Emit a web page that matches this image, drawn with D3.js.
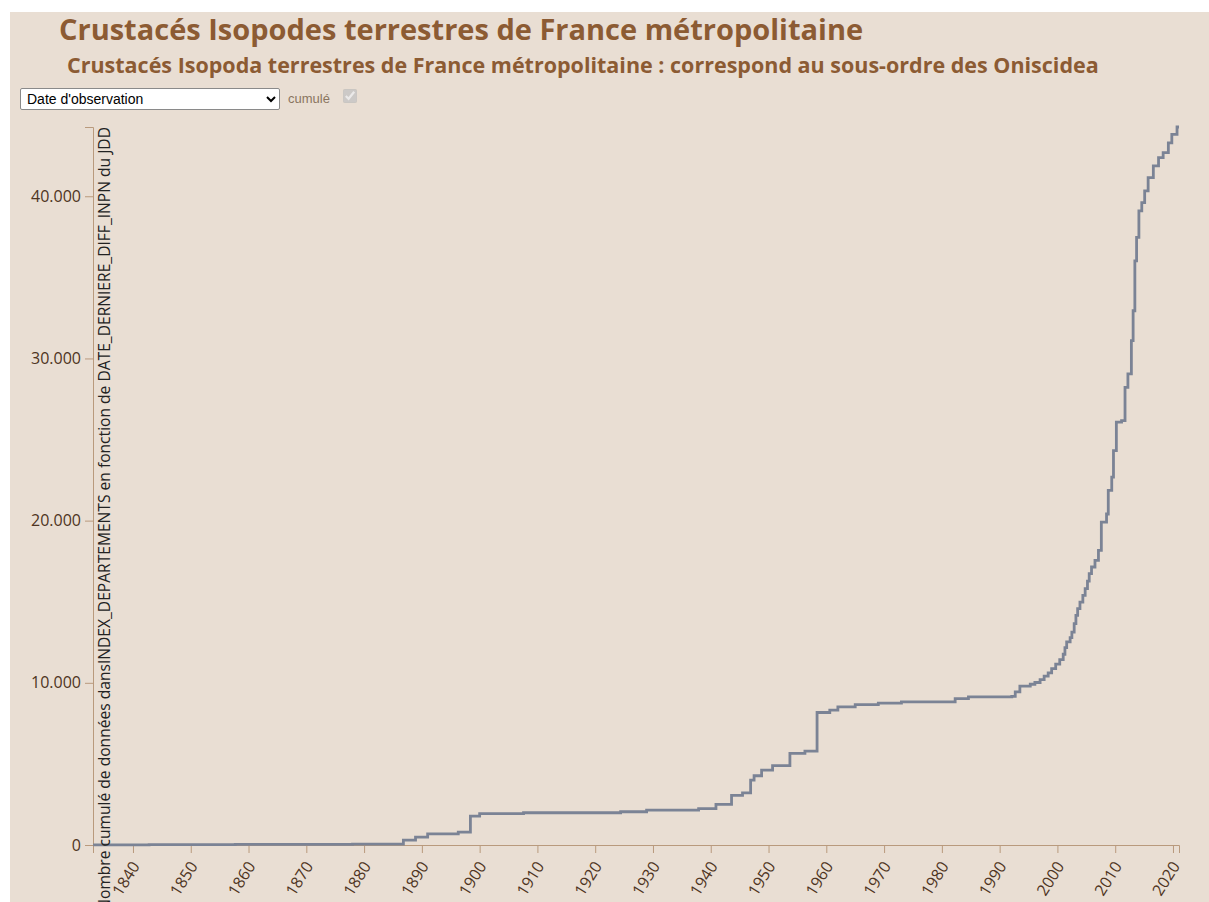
<!DOCTYPE html>
<html lang="fr">
<head>
<meta charset="utf-8">
<script src="https://cdn.jsdelivr.net/npm/d3@7/dist/d3.min.js"></script>
<style>
  body { margin: 0; background: #fff; font-family: "Open Sans", sans-serif; overflow: hidden; }
  #page { position: absolute; left: 10px; top: 12px; width: 1199px; height: 890px; background: #e9ded3; }
  #chart { position: absolute; left: 0; top: 0; }
  #mode { position: absolute; left: 20px; top: 88px; width: 260px; height: 22px; font: 14px Arial, "Liberation Sans", sans-serif;
          background: #fff; border: 1px solid #8a8a8a; border-radius: 2px; padding: 0 2px; color: #000; }
  #cumul { position: absolute; left: 288px; top: 91px; font: 13px Arial, "Liberation Sans", sans-serif; color: #8a7560; }
  #cumulBox { position: absolute; left: 343px; top: 89px; margin: 0; width: 14px; height: 14px; accent-color: #cbbfb3; }
</style>
</head>
<body>
<div id="page"></div>
<svg id="chart" width="1209" height="902"></svg>
<select id="mode"><option>Date d'observation</option></select>
<span id="cumul">cumulé</span>
<input id="cumulBox" type="checkbox" checked disabled>
<script>
// titres
const title = "Crustacés Isopodes terrestres de France métropolitaine";
const subtitle = "Crustacés Isopoda terrestres de France métropolitaine : correspond au sous-ordre des Oniscidea";
const yLabel = "Nombre cumulé de données dansINDEX_DEPARTEMENTS en fonction de DATE_DERNIERE_DIFF_INPN du JDD";

// courbe cumulée (année décimale, nombre cumulé)
const years = [1833.1, 1842.8, 1857.7, 1878, 1886.8, 1888.9, 1891, 1896.3, 1898.4, 1900, 1907.6,
  1924.4, 1928.9, 1937.9, 1940.9, 1943.6, 1945.5, 1946.9, 1947.5, 1948.8, 1950.7, 1953.7, 1956.3,
  1958.4, 1960.6, 1962, 1965, 1969, 1973, 1982.3, 1984.6, 1992.1, 1992.7, 1993.5, 1995.3, 1996.1,
  1997, 1997.7, 1998.4, 1999, 1999.7, 2000.4, 2001, 2001.3, 2001.6, 2002.2, 2002.5, 2002.9, 2003.2,
  2003.5, 2003.9, 2004.4, 2004.8, 2005.2, 2005.5, 2005.9, 2006.5, 2007.1, 2007.6, 2008.5, 2008.8,
  2009.4, 2009.7, 2010.2, 2011.1, 2011.7, 2012.2, 2012.8, 2013.1, 2013.4, 2013.7, 2014.1, 2014.6,
  2015.1, 2015.7, 2016.6, 2017.5, 2018.3, 2019.2, 2019.8, 2020.7, 2021.04];
const values = [5, 20, 35, 60, 300, 490, 680, 800, 1780, 1930, 1990,
  2050, 2150, 2240, 2500, 3060, 3220, 4000, 4270, 4620, 4900, 5650, 5790,
  8170, 8310, 8520, 8650, 8750, 8820, 9030, 9130, 9170, 9440, 9790, 9910, 10020,
  10200, 10410, 10610, 10880, 11150, 11430, 11760, 12170, 12520, 12790, 13130, 13650, 14160,
  14570, 14980, 15390, 15810, 16270, 16730, 17140, 17550, 18160, 19910, 20410, 21860,
  22680, 24320, 26070, 26170, 28220, 29050, 31100, 32940, 36020, 37460, 39100, 39610,
  40330, 41150, 41870, 42380, 42690, 43290, 43810, 44270, 44270];

const domainYears = [1833.08, 2021.04];
const xTickYears = [1840, 1850, 1860, 1870, 1880, 1890, 1900, 1910, 1920, 1930, 1940, 1950,
  1960, 1970, 1980, 1990, 2000, 2010, 2020];
const yTicks = [0, 10000, 20000, 30000, 40000];

function toDate(dec) {
  const yr = Math.floor(dec);
  const start = new Date(yr, 0, 1), end = new Date(yr + 1, 0, 1);
  return new Date(+start + (dec - yr) * (end - start));
}

const data = years.map((y, i) => ({ date: toDate(y), value: values[i] }));

const svg = d3.select("#chart");
const brown = "#8c5b33";
const axisCol = "#b99a7d";

svg.append("text")
  .attr("x", 59).attr("y", 40)
  .attr("font-family", "Open Sans").attr("font-weight", 700).attr("font-size", 29)
  .attr("fill", brown)
  .text(title);

svg.append("text")
  .attr("x", 67).attr("y", 73)
  .attr("font-family", "Open Sans").attr("font-weight", 700).attr("font-size", 21.5)
  .attr("fill", brown)
  .text(subtitle);

const x = d3.scaleTime()
  .domain(domainYears.map(toDate))
  .range([93, 1179]);
const y = d3.scaleLinear()
  .domain([0, d3.max(values)])
  .range([845, 127]);

const fr = d3.formatLocale({ decimal: ",", thousands: ".", grouping: [3], currency: ["", " €"] });

const gx = svg.append("g")
  .attr("transform", `translate(0,${y(0)})`)
  .call(d3.axisBottom(x)
    .tickValues(xTickYears.map(v => new Date(v, 0, 1)))
    .tickFormat(d3.timeFormat("%Y"))
    .tickSize(8));
gx.selectAll("text")
  .attr("y", 0).attr("dy", 0)
  .attr("transform", "translate(7,21) rotate(-58)")
  .style("text-anchor", "end")
  .attr("font-size", 16)
  .attr("font-family", "Open Sans")
  .attr("fill", "#4e3422");

const gy = svg.append("g")
  .attr("transform", `translate(${x.range()[0]},0)`)
  .call(d3.axisLeft(y)
    .tickValues(yTicks)
    .tickFormat(fr.format(",d"))
    .tickSize(8)
    .tickPadding(4));
gy.selectAll("text")
  .attr("font-size", 16)
  .attr("font-family", "Open Sans")
  .attr("fill", "#4e3422");

svg.selectAll(".domain, .tick line").attr("stroke", axisCol);

svg.append("path")
  .datum(data)
  .attr("fill", "none")
  .attr("stroke", "#7b8395")
  .attr("stroke-width", 2.8)
  .attr("d", d3.line()
    .x(d => x(d.date))
    .y(d => y(d.value))
    .curve(d3.curveStepAfter));

svg.append("text")
  .attr("transform", `translate(110,${y.range()[1]}) rotate(-90)`)
  .attr("text-anchor", "end")
  .attr("font-family", "Open Sans")
  .attr("font-size", 15.6)
  .attr("fill", "#222")
  .text(yLabel);
</script>
</body>
</html>
